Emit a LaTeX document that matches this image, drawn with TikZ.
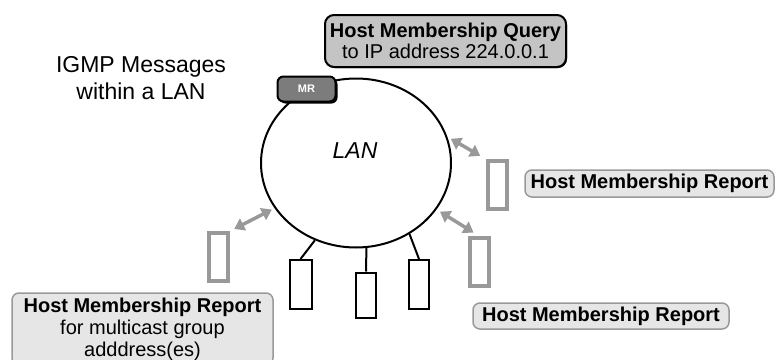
\documentclass[tikz,border=0pt]{standalone}
\usepackage{fontspec}
\setmainfont{Liberation Sans}
\usetikzlibrary{shapes.geometric,arrows.meta,shadows}
\definecolor{reportfill}{HTML}{E6E6E6}
\definecolor{reportedge}{HTML}{999999}
\definecolor{queryfill}{HTML}{C4C4C4}
\definecolor{routerfill}{HTML}{7C7C7C}
\begin{document}
\begin{tikzpicture}[x=1pt,y=-1pt,
  host/.style={draw=black,line width=2pt,minimum width=20pt,minimum height=49pt,inner sep=0pt},
  member/.style={draw=reportedge,line width=3.5pt,minimum width=19pt,minimum height=48pt,inner sep=0pt},
  msg/.style={draw=reportedge,line width=3.5pt,{Triangle[width=13pt,length=10pt]}-{Triangle[width=13pt,length=10pt]}},
  report/.style={draw=reportedge,fill=reportfill,line width=1.5pt,rounded corners=7pt,
    align=center,inner sep=1pt,font=\fontsize{20}{22}\selectfont}]
  \clip (0,0) rectangle (776,359);
  % the LAN and its router
  \node[draw,ellipse,line width=2pt,inner sep=0pt,minimum width=190pt,minimum height=169pt] (lan) at (356,163) {};
  \node[font=\fontsize{23}{27}\selectfont\itshape] (lanlbl) at (355,151) {LAN};
  \node[draw=black,fill=routerfill,line width=2pt,rounded corners=6pt,minimum width=58pt,minimum height=25pt,
    text=white,font=\fontsize{11}{12}\selectfont\bfseries,
    drop shadow={shadow xshift=2pt,shadow yshift=-2pt,fill=black,opacity=1}] (mr) at (306.5,89) {MR};
  \node[font=\fontsize{23}{27}\selectfont,align=center] (title) at (141,78) {IGMP Messages\\within a LAN};
  % hosts on the LAN
  \node[host,minimum width=22pt] (h1) at (300.5,284.5) {};
  \node[host,minimum height=45pt] (h2) at (366,295) {};
  \node[host] (h3) at (419,284.5) {};
  \draw[line width=2pt] (h1.north) -- (lan.242);
  \draw[line width=2pt] (h2.north) -- (lan.277);
  \draw[line width=2pt] (h3.north) -- (lan.307);
  % members answering the query
  \node[member] (g1) at (218.5,257) {};
  \node[member] (g2) at (497.5,185) {};
  \node[member] (g3) at (479.5,262) {};
  \draw[msg,shorten <=5pt,shorten >=3pt] (g1.north east) -- (lan.209);
  \draw[msg,shorten <=7pt,shorten >=4pt] (g2.north west) -- (lan.16);
  \draw[msg,shorten <=7pt,shorten >=4pt] (g3.north) -- (lan.330);
  % messages
  \node[draw=black,fill=queryfill,line width=2pt,rounded corners=9pt,minimum width=241pt,minimum height=52pt,
    align=center,inner sep=1pt,font=\fontsize{20}{21}\selectfont,
    drop shadow={shadow xshift=1pt,shadow yshift=-1pt,fill=black,opacity=1}] (query) at (445.5,41)
    {\textbf{Host Membership Query}\\to IP address 224.0.0.1};
  \node[report,minimum width=249pt,minimum height=27pt] (rep1) at (649.5,183.5) {\textbf{Host Membership Report}};
  \node[report,minimum width=256pt,minimum height=26pt] (rep2) at (601,316) {\textbf{Host Membership Report}};
  \node[report,minimum width=261pt,minimum height=72pt] (rep3) at (142.5,329)
    {\textbf{Host Membership Report}\\for multicast group\\adddress(es)};
\end{tikzpicture}
\end{document}
